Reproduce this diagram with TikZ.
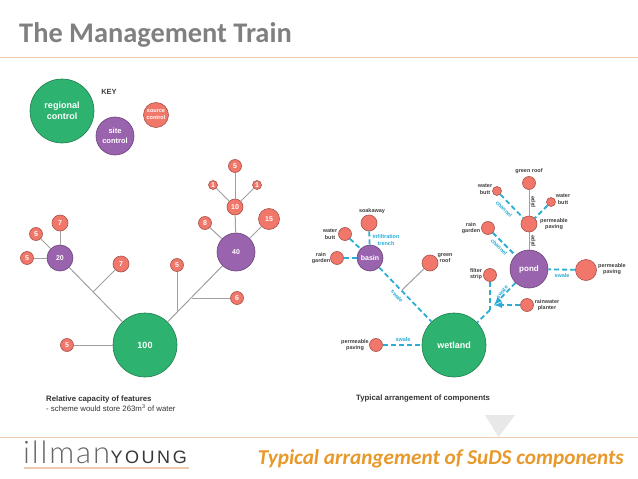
\documentclass[tikz,border=0pt]{standalone}
\usepackage{fontspec}
\setmainfont{Liberation Sans}
\newfontfamily\calf{Carlito}
\newfontfamily\latf[LetterSpace=6]{Lato Light}
\newfontfamily\yngf[LetterSpace=14]{Liberation Sans}
\definecolor{grn}{HTML}{2DB36F}
\definecolor{pur}{HTML}{9A63AE}
\definecolor{sal}{HTML}{F0776A}
\definecolor{blu}{HTML}{2BADD6}
\definecolor{gry}{HTML}{A0A0A0}
\definecolor{org}{HTML}{E8992A}
\definecolor{rulec}{HTML}{EFC9AE}
\tikzset{
 x=1pt,y=-1pt,
 circ/.style={circle,draw=#1!70!black,line width=.6pt,inner sep=0pt,text=white,font=\bfseries\fontsize{7}{8}\selectfont,align=center},
 reg/.style={circ=grn,fill=grn,minimum size=#1*2pt},
 sitec/.style={circ=pur,fill=pur,minimum size=#1*2pt},
 src/.style={circ=sal,fill=sal,minimum size=#1*2pt},
 pipeline/.style={gry,line width=1pt},
 swaleline/.style={blu,line width=1.8pt,dash pattern=on 5pt off 3pt},
 lbl/.style={font=\bfseries\fontsize{5.5}{6.7}\selectfont,text=black!75,align=center,inner sep=0pt},
 blbl/.style={font=\bfseries\fontsize{5.5}{6.7}\selectfont,text=blu,align=center,inner sep=0pt},
 caption/.style={font=\fontsize{7.8}{9.6}\selectfont,text=black!80,anchor=west,inner sep=0pt,align=left},
}
\begin{document}
\begin{tikzpicture}
\useasboundingbox (0,0) rectangle (638,479);
\fill[white] (0,0) rectangle (638,479);
% header/footer
\node[anchor=west,inner sep=0pt,font=\calf\bfseries\fontsize{28.4}{32}\selectfont,text=black!50] (title) at (19,35) {The Management Train};
\coordinate (hl) at (0,57.5); \coordinate (hr) at (638,57.5);
\draw[rulec,line width=.8pt] (hl) -- (hr);
\coordinate (t1) at (485,415); \coordinate (t2) at (515,415); \coordinate (t3) at (498.5,437);
\fill[black!9] (t1) -- (t2) -- (t3) -- cycle;
\coordinate (fl) at (0,437); \coordinate (fr) at (638,437);
\draw[rulec,line width=.8pt] (fl) -- (fr);
\node[anchor=base west,inner sep=0pt,font=\latf\fontsize{31}{34}\selectfont,text=black!60] (logoa) at (23,463.5) {illman};
\node[anchor=base west,inner sep=0pt,font=\yngf\fontsize{18}{22}\selectfont,text=black!78] (logob) at (110.5,463.5) {YOUNG};
\coordinate (ul) at (24,468); \coordinate (ur) at (189,468);
\draw[rulec,line width=1.2pt] (ul) -- (ur);
\node[anchor=east,inner sep=0pt,font=\calf\bfseries\itshape\fontsize{21.2}{25}\selectfont,text=org] (sub) at (624,459) {Typical arrangement of SuDS components};
% key
\node[reg=32,font=\bfseries\fontsize{9}{11}\selectfont] (kr) at (62,111) {regional\\control};
\node[sitec=19,font=\bfseries\fontsize{7.5}{10}\selectfont] (ks) at (115,136) {site\\control};
\node[src=12.5,font=\bfseries\fontsize{5.5}{7}\selectfont] (kq) at (156,115) {source\\control};
\node[font=\bfseries\fontsize{7.5}{8}\selectfont,text=black!75,inner sep=0pt] (key) at (109,92) {KEY};
% left tree nodes
\node[reg=32,font=\bfseries\fontsize{9}{11}\selectfont] (L100) at (145,345) {100};
\node[sitec=19] (L40) at (236,252) {40};
\node[sitec=13] (L20) at (60,258) {20};
\node[src=8] (L10) at (235,207) {10};
\node[src=6.5] (La) at (235,166) {5};
\node[src=4.5] (Lb) at (213,185) {1};
\node[src=4.5] (Lc) at (257,185) {1};
\node[src=6.5] (Ld) at (205,223) {8};
\node[src=10.5] (Le) at (269,219) {15};
\node[src=8] (Lf) at (60,223) {7};
\node[src=6.5] (Lg) at (36,234) {5};
\node[src=6.5] (Lh) at (27,258) {5};
\node[src=8] (Li) at (121,264) {7};
\node[src=6.5] (Lj) at (177,265) {5};
\node[src=6.5] (Lk) at (237,298) {6};
\node[src=6.5] (Ll) at (67,345) {5};
\coordinate (J1) at (93,292);
\coordinate (J2) at (177,312);
\coordinate (J3) at (192,298);
\foreach \a/\b in {La/L10,Lb/L10,Lc/L10,L10/L40,Ld/L40,Le/L40,Lf/L20,Lg/L20,Lh/L20,L20/L100,L40/L100,Ll/L100,Li/J1,Lj/J2,Lk/J3}
  \draw[pipeline] (\a) -- (\b);
\node[caption] (capL) at (46,403.5) {\textbf{Relative capacity of features}\\- scheme would store 263m\textsuperscript{3} of water};
% right nodes
\node[reg=32,font=\bfseries\fontsize{9}{11}\selectfont] (W) at (454,345) {wetland};
\node[sitec=13] (B) at (370,258) {basin};
\node[sitec=19,font=\bfseries\fontsize{8}{10}\selectfont] (P) at (529,269) {pond};
\node[src=8] (sk) at (369,223) {};
\node[src=6.5] (wb) at (345,234) {};
\node[src=6.5] (rg) at (337,258) {};
\node[src=8] (gr) at (430,263) {};
\node[src=6.5] (pp) at (376,345) {};
\node[src=8] (pp2) at (529,224) {};
\node[src=6.5] (gr2) at (529,183) {};
\node[src=4.5] (wb2) at (497,191) {};
\node[src=4.5] (wb3) at (551,202) {};
\node[src=6.5] (rg2) at (488,228) {};
\node[src=10.5] (pp3) at (586,270) {};
\node[src=6.5] (fs) at (490,275) {};
\node[src=6.5] (rp) at (527,305) {};
\coordinate (K1) at (490,310);
\coordinate (K2) at (494,305);
\coordinate (K3) at (402,290);
\foreach \a/\b in {sk/B,wb/B,rg/B,B/W,pp/W,wb2/pp2,wb3/pp2,rg2/P,pp3/P,fs/K1,K1/W}
  \draw[swaleline] (\a) -- (\b);
\draw[swaleline,-latex] (P) -- (K2);
\draw[swaleline,-latex] (rp) -- (K2);
\draw[pipeline] (gr) -- (K3);
\draw[pipeline] (gr2) -- (pp2);
\draw[pipeline] (pp2) -- (P);
% right labels
\node[lbl] (t01) at (372,211) {soakaway};
\node[lbl] (t02) at (330,234) {water\\butt};
\node[lbl] (t03) at (321,258) {rain\\garden};
\node[lbl] (t04) at (445,258) {green\\roof};
\node[lbl] (t05) at (355,345) {permeable\\paving};
\node[lbl] (t06) at (529,171) {green roof};
\node[lbl] (t07) at (485,189) {water\\butt};
\node[lbl] (t08) at (563,199) {water\\butt};
\node[lbl] (t09) at (554,224) {permeable\\paving};
\node[lbl] (t10) at (471,228) {rain\\garden};
\node[lbl] (t11) at (612,269) {permeable\\paving};
\node[lbl] (t12) at (476,274) {filter\\strip};
\node[lbl] (t13) at (547,305) {rainwater\\planter};
\node[blbl] (t14) at (386,240) {infiltration\\trench};
\node[blbl,rotate=-48] (t15) at (397,296) {swale};
\node[blbl] (t16) at (403,340) {swale};
\node[blbl,rotate=-45] (t17) at (504,209) {channel};
\node[blbl,rotate=-45] (t18) at (499,247) {channel};
\node[lbl,rotate=90] (t19) at (533,202) {pipe};
\node[lbl,rotate=90] (t20) at (533,241) {pipe};
\node[blbl] (t21) at (562,276) {swale};
\node[blbl,rotate=50] (t22) at (502,292) {swale};
\node[caption,font=\bfseries\fontsize{7.8}{9.6}\selectfont] (capR) at (356,398) {Typical arrangement of components};
\end{tikzpicture}
\end{document}
